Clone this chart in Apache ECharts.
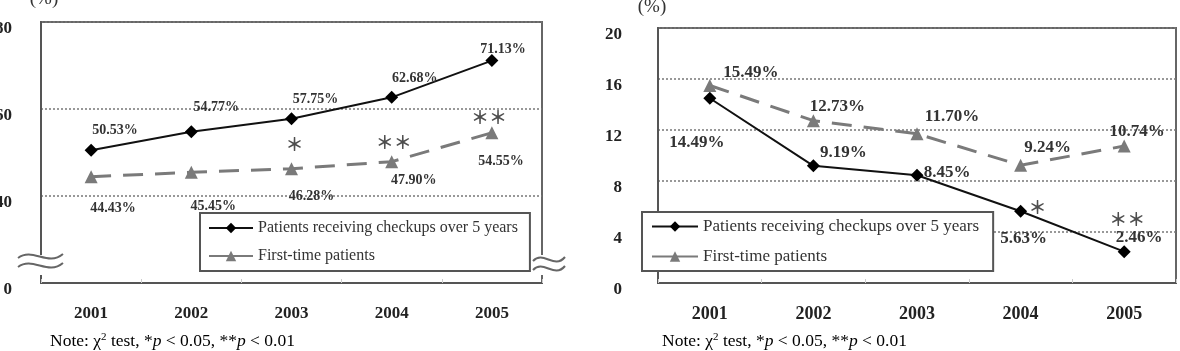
<!DOCTYPE html>
<html>
<head>
<meta charset="utf-8">
<script src="https://cdn.jsdelivr.net/npm/echarts@6.0.0/dist/echarts.min.js"></script>
<style>
  html, body { margin: 0; padding: 0; background: #fff; }
  #main { width: 1180px; height: 351px; }
</style>
</head>
<body>
<div id="main"></div>
<script>
const years = ['2001', '2002', '2003', '2004', '2005']
const seriesNames = ['Patients receiving checkups over 5 years', 'First-time patients']

// left panel
const leftCheckup = [50.53, 54.77, 57.75, 62.68, 71.13]
const leftFirstTime = [44.43, 45.45, 46.28, 47.90, 54.55]
const leftSig = ['', '', '*', '**', '**']

// right panel
const rightCheckup = [14.49, 9.19, 8.45, 5.63, 2.46]
const rightFirstTime = [15.49, 12.73, 11.70, 9.24, 10.74]
const rightSig = ['', '', '', '*', '**']

// label placement (offset from the point)
const leftCheckupOffs = [[24, -20], [25, -24], [24, -19], [23, -19], [11, -11]]
const leftFirstOffs = [[22, 32], [22, 34], [20, 28], [22, 19], [9, 29]]
const leftSigOffs = [null, null, [3, -25], [2, -19], [-3, -16]]
const rightCheckupOffs = [[-13, 44], [30, -13], [30, -3], [3, 27], [15, -14]]
const rightFirstOffs = [[41, -13], [24, -14], [35, -17], [27, -18], [13, -14]]
const rightSigOffs = [null, null, null, [17, -4], [3, -32]]

const serif = 'Liberation Serif'
const chart = echarts.init(document.getElementById('main'))

const withLabels = (vals, offs) => vals.map((v, i) => ({ value: v, label: { offset: offs[i] } }))

const lineSeries = (axis, first, vals, offs, fs) => ({
    name: first ? seriesNames[0] : seriesNames[1],
    type: 'line',
    xAxisIndex: axis,
    yAxisIndex: axis,
    data: withLabels(vals, offs),
    symbol: first ? 'diamond' : 'triangle',
    symbolSize: 13,
    itemStyle: { color: first ? '#000' : '#7a7a7a' },
    lineStyle: first
        ? { color: '#111', width: 2 }
        : { color: '#7a7a7a', width: 3, type: [20, 12] },
    label: {
        show: true,
        position: 'inside',
        formatter: p => p.value.toFixed(2) + '%',
        fontFamily: serif,
        fontWeight: 'bold',
        fontSize: fs,
        color: '#333'
    },
    z: first ? 3 : 2
})

// significance marks drawn as labels on invisible points
const sigSeries = (axis, vals, sig, offs) => ({
    type: 'scatter',
    xAxisIndex: axis,
    yAxisIndex: axis,
    silent: true,
    symbolSize: 1,
    itemStyle: { color: 'transparent' },
    data: vals.map((v, i) => sig[i] ? { value: v, label: { offset: offs[i] } } : '-'),
    label: {
        show: true,
        position: 'inside',
        formatter: p => sig[p.dataIndex].replace(/\*/g, '＊'),
        fontFamily: 'Noto Sans CJK JP',
        fontWeight: 'bold',
        fontSize: 18,
        color: '#222'
    },
    z: 5
})

// wavy break marks
const wave = (x, y, w) => ({
    type: 'bezierCurve',
    shape: { x1: x, y1: y + 5, cpx1: x + w * 0.33, cpy1: y - 6, cpx2: x + w * 0.66, cpy2: y + 14, x2: x + w, y2: y + 1 },
    style: { fill: 'none', stroke: '#666', lineWidth: 2 },
    z: 101
})

const noteRich = {
    n: { fontFamily: serif, fontSize: 17.5, color: '#333' },
    s: { fontFamily: serif, fontSize: 11, color: '#333', verticalAlign: 'top', padding: [0, 0, 7, 0] },
    i: { fontFamily: serif, fontSize: 17.5, fontStyle: 'italic', color: '#333' }
}
const note = '{n|Note: χ}{s|2}{n| test, *}{i|p}{n| < 0.05, **}{i|p}{n| < 0.01}'

const yLabel = (margin) => ({
    fontFamily: serif, fontWeight: 'bold', fontSize: 17, color: '#222', margin,
    verticalAlign: 'top', lineHeight: 14
})

const option = {
    backgroundColor: '#fff',
    animation: false,
    grid: [
        { left: 41, top: 22, width: 501, height: 261, show: true, borderColor: '#666', borderWidth: 2, outerBoundsMode: 'none' },
        { left: 658, top: 28, width: 518, height: 255, show: true, borderColor: '#666', borderWidth: 2, outerBoundsMode: 'none' }
    ],
    xAxis: [0, 1].map(i => ({
        type: 'category',
        gridIndex: i,
        data: years,
        boundaryGap: true,
        axisLine: { lineStyle: { color: '#555', width: 2 } },
        axisTick: { show: true, inside: true, length: 4, lineStyle: { color: '#ccc' } },
        axisLabel: { fontFamily: serif, fontWeight: 'bold', fontSize: i ? 18 : 17, color: '#222', margin: 22 }
    })),
    yAxis: [
        {
            type: 'value',
            gridIndex: 0,
            min: 20,
            max: 80,
            interval: 20,
            name: '(%)',
            nameLocation: 'end',
            nameGap: 13,
            nameTextStyle: { fontFamily: serif, fontSize: 19, color: '#333', align: 'center', padding: [0, 0, 0, 6] },
            axisLine: { show: true, lineStyle: { color: '#555', width: 2 } },
            axisTick: { show: false },
            axisLabel: Object.assign(yLabel(29), { formatter: v => v === 20 ? '0' : String(v) }),
            splitLine: { show: true, lineStyle: { color: '#777', type: [2, 2], width: 1.5 } }
        },
        {
            type: 'value',
            gridIndex: 1,
            min: 0,
            max: 20,
            interval: 4,
            name: '(%)',
            nameLocation: 'end',
            nameGap: 11,
            nameTextStyle: { fontFamily: serif, fontSize: 19, color: '#333', align: 'center', padding: [0, 12, 0, 0] },
            axisLine: { show: true, lineStyle: { color: '#555', width: 2 } },
            axisTick: { show: false },
            axisLabel: yLabel(36),
            splitLine: { show: true, lineStyle: { color: '#777', type: [2, 2], width: 1.5 } }
        }
    ],
    legend: [
        {
            left: 200, top: 213, orient: 'vertical', data: seriesNames,
            itemWidth: 44, itemHeight: 13, itemGap: 12, padding: [7, 12, 7, 8],
            borderColor: '#555', borderWidth: 2, backgroundColor: '#fff',
            selectedMode: false,
            lineStyle: { type: 'solid', width: 2 },
            textStyle: { fontFamily: serif, fontSize: 16, color: '#333' }
        },
        {
            left: 642, top: 212, orient: 'vertical', data: seriesNames,
            itemWidth: 46, itemHeight: 13, itemGap: 13, padding: [6, 14, 6, 9],
            borderColor: '#555', borderWidth: 2, backgroundColor: '#fff',
            selectedMode: false,
            lineStyle: { type: 'solid', width: 2 },
            textStyle: { fontFamily: serif, fontSize: 17, color: '#333' }
        }
    ],
    series: [
        lineSeries(0, true, leftCheckup, leftCheckupOffs, 14),
        lineSeries(0, false, leftFirstTime, leftFirstOffs, 14),
        sigSeries(0, leftFirstTime, leftSig, leftSigOffs),
        lineSeries(1, true, rightCheckup, rightCheckupOffs, 17),
        lineSeries(1, false, rightFirstTime, rightFirstOffs, 17),
        sigSeries(1, rightCheckup, rightSig, rightSigOffs)
    ],
    graphic: [
        { type: 'text', left: 50, top: 332, style: { text: note, rich: noteRich } },
        { type: 'text', left: 662, top: 332, style: { text: note, rich: noteRich } },
        // axis breaks
        { type: 'rect', shape: { x: 37, y: 255, width: 9, height: 20 }, style: { fill: '#fff' }, z: 100 },
        wave(18, 253, 45),
        wave(18, 262, 45),
        { type: 'rect', shape: { x: 538, y: 255, width: 9, height: 20 }, style: { fill: '#fff' }, z: 100 },
        wave(533, 256, 32),
        wave(533, 265, 32)
    ]
}

chart.setOption(option)
</script>
</body>
</html>
